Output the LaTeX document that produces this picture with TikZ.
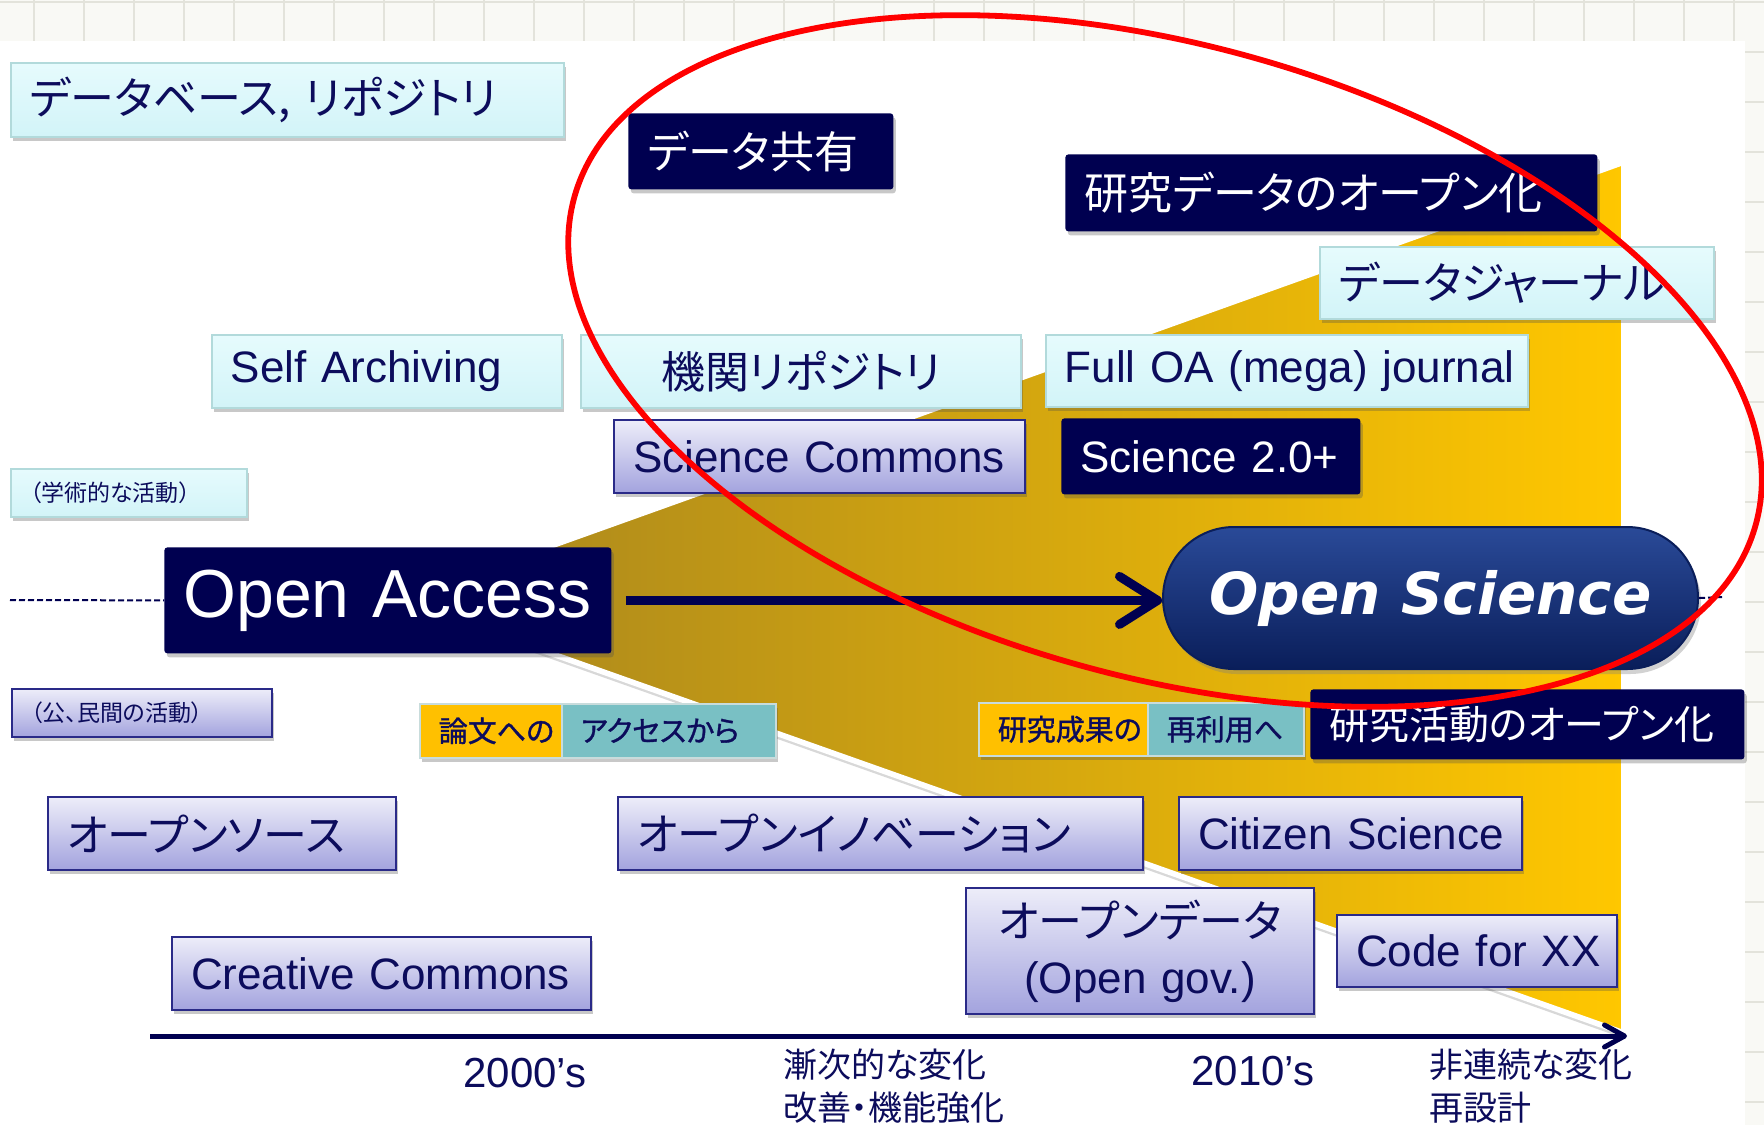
\documentclass[tikz,border=0pt]{standalone}
\usepackage{fontspec}
\setmainfont{Liberation Sans}
\newfontfamily\jp[RawFeature=+palt]{Noto Sans CJK JP}
\newfontfamily\jpb[RawFeature=+palt, FakeBold=1.2]{Noto Sans CJK JP}
\newfontfamily\dvs{DejaVu Sans}
\usetikzlibrary{shadows,arrows.meta}
\definecolor{navy}{HTML}{000050}
\definecolor{ink}{HTML}{0C0C5C}
\definecolor{cyantop}{HTML}{E6FBFD}
\definecolor{cyanbot}{HTML}{D2F4F8}
\definecolor{cyanedge}{HTML}{B2DADB}
\definecolor{lavtop}{HTML}{EDEDF9}
\definecolor{lavbot}{HTML}{A3A3DE}
\definecolor{lavedge}{HTML}{2A2A88}
\definecolor{goldA}{HTML}{A6841F}
\definecolor{goldB}{HTML}{D6A20F}
\definecolor{goldC}{HTML}{FFC700}
\definecolor{labY}{HTML}{FFC000}
\definecolor{labT}{HTML}{79C0C4}
\definecolor{labedge}{HTML}{C8DCDC}
\definecolor{gridbg}{HTML}{F9F9F5}
\definecolor{gridln}{HTML}{E3E3DB}
\definecolor{pillA}{HTML}{2A4A98}
\definecolor{pillB}{HTML}{0F2A6C}
\definecolor{pillC}{HTML}{0A1E5A}
\definecolor{redline}{HTML}{FF0000}
\tikzset{
  base/.style={anchor=north west, inner xsep=9.5pt, inner ysep=0pt, align=left},
  sz/.style n args={3}{minimum width=#1pt, minimum height=#2pt, text width=#3pt},
  shad/.style={drop shadow={shadow xshift=1.2pt, shadow yshift=-2pt, opacity=0.3, fill=black!70}},
  cyanbox/.style={base, shad, top color=cyantop, bottom color=cyanbot, draw=cyanedge, line width=0.8pt, text=ink},
  lavbox/.style={base, shad, top color=lavtop, bottom color=lavbot, draw=lavedge, line width=1pt, text=ink},
  navybox/.style={base, shad, fill=navy, rounded corners=1.5pt, text=white},
  labyel/.style={base, shad, fill=labY, draw=labedge, line width=0.8pt, text=ink, font=\jpb\fontsize{14.5}{17}\selectfont},
  labteal/.style={base, shad, fill=labT, draw=labedge, line width=0.8pt, text=ink, font=\jpb\fontsize{14.5}{17}\selectfont},
  big/.style={font=\fontsize{22}{26}\selectfont},
  bigjp/.style={font=\jp\fontsize{22}{26}\selectfont},
  smalljp/.style={font=\jp\fontsize{11.5}{14}\selectfont},
  pill/.style={anchor=north west, inner sep=0pt, minimum width=267.5pt, minimum height=71pt,
    rounded corners=35.5pt, top color=pillA, middle color=pillB, bottom color=pillC,
    draw=pillC, line width=1pt, text=white, drop shadow={shadow xshift=1.5pt, shadow yshift=-2.5pt, opacity=0.35},
    font=\dvs\bfseries\itshape\fontsize{29}{34}\selectfont},
  dashline/.style={navy, line width=1pt, dash pattern=on 3pt off 1.5pt},
  flowarrow/.style={navy, line width=4.5pt, -{Straight Barb[length=19pt, width=24pt, round]}},
  axisline/.style={navy, line width=2.5pt, -{Straight Barb[length=10pt, width=11pt, round]}},
  axlabel/.style={text=ink, inner sep=0pt, font=\fontsize{21}{25}\selectfont},
  axnote/.style={text=ink, inner sep=0pt, anchor=north west, align=left, font=\jp\fontsize{17}{21.5}\selectfont},
  ring/.style={draw=redline, line width=2.9pt}
}
\begin{document}
\begin{tikzpicture}[x=0.5pt,y=-0.5pt]
\useasboundingbox (0,0) rectangle (1764,1125);
% background grid and slide
\fill[gridbg] (0,0) rectangle (1764,1125);
\foreach \gx in {34,84,...,1764} \draw[gridln, line width=0.6pt] (\gx,0) -- (\gx,1125);
\foreach \gy in {2,52,...,1125} \draw[gridln, line width=0.6pt] (0,\gy) -- (1764,\gy);
\fill[white] (0,41) rectangle (1745,1125);
% gold wedge
\path[drop shadow={shadow xshift=0.8pt, shadow yshift=-3pt, opacity=0.3},
  left color=goldA, middle color=goldB, right color=goldC, draw=white, line width=2.8pt]
  (400,600) -- (1624,162) -- (1624,1033) -- cycle;
% top row
\node[cyanbox, bigjp, sz={276.5}{37}{257.5}] (db) at (10,62) {データベース, リポジトリ};
\node[navybox, bigjp, sz={132.5}{38}{113.5}] (share) at (628,113) {データ共有};
\node[navybox, bigjp, sz={266}{38.5}{247}] (rdopen) at (1065,154) {研究データのオープン化};
\node[cyanbox, bigjp, sz={197}{36}{178}] (djournal) at (1319,246) {データジャーナル};
\node[cyanbox, big, sz={175}{36.5}{156}] (selfarch) at (211,334) {\mbox{Self Archiving}};
\node[cyanbox, bigjp, sz={220}{36.5}{201}, align=center] (kikan) at (580,334) {機関リポジトリ};
\node[cyanbox, big, sz={241}{36}{222}] (fulloa) at (1045,334) {\mbox{Full OA (mega) journal}};
\node[lavbox, big, sz={205.5}{36.5}{186.5}] (scicom) at (613,419) {\mbox{Science Commons}};
\node[navybox, big, sz={149.5}{38}{130.5}] (sci20) at (1061,418) {\mbox{Science 2.0+}};
\node[cyanbox, smalljp, sz={118}{24}{99}] (gaku) at (10,468) {（学術的な活動）};
% main line
\node[navybox, font=\fontsize{34}{40}\selectfont, sz={223.5}{53}{204.5}] (oa) at (164,547) {\mbox{Open Access}};
\node[pill] (os) at (1162,526) {Open Science};
\coordinate (dashL) at (10,600);
\coordinate (dashR) at (1722,597);
\draw[dashline] (dashL) -- (oa.west);
\draw[dashline] (os.east) -- (dashR);
\draw[flowarrow, shorten <=7pt] (oa.east) -- (oa.east -| os.west);
% lower part
\node[lavbox, smalljp, sz={130}{24}{111}] (koumin) at (11,688) {（公、民間の活動）};
\node[labyel, sz={71}{27}{52}] (ronY) at (419,703) {論文への};
\node[labteal, sz={107}{27}{88}] (ronT) at (561,703) {アクセスから};
\node[labyel, sz={84.5}{26.5}{65.5}] (seiY) at (978,702) {研究成果の};
\node[labteal, sz={78}{26.5}{59}] (seiT) at (1147,702) {再利用へ};
\node[navybox, font=\jp\fontsize{20}{24}\selectfont, sz={217}{35}{198}] (katsudo) at (1310,689) {研究活動のオープン化};
\node[lavbox, bigjp, sz={174}{36.5}{155}] (oss) at (47,796) {オープンソース};
\node[lavbox, bigjp, sz={262.5}{36.5}{243.5}] (oinno) at (617,796) {オープンイノベーション};
\node[lavbox, big, sz={171.5}{36.5}{152.5}] (citizen) at (1178,796) {\mbox{Citizen Science}};
\node[lavbox, big, sz={209.5}{36.5}{190.5}] (cc) at (171,936) {\mbox{Creative Commons}};
\node[lavbox, font=\fontsize{22}{28}\selectfont, sz={174}{63}{155}, align=center] (odata) at (965,887) {{\jp オープンデータ}\\(Open gov.)};
\node[lavbox, big, sz={140}{36}{121}] (codexx) at (1336,914) {\mbox{Code for XX}};
% time axis
\coordinate (axL) at (150,1036);
\coordinate (axR) at (1627,1036);
\draw[axisline] (axL) -- (axR);
\node[axlabel] (y2000) at (525,1073) {2000’s};
\node[axlabel] (y2010) at (1253,1071) {2010’s};
\node[axnote] (grad) at (783,1048) {漸次的な変化\\改善・機能強化};
\node[axnote] (disc) at (1429,1048) {非連続な変化\\再設計};
% red ring
\draw[ring, rotate around={-15.5:(1165,361)}] (1165,361) ellipse [x radius=613, y radius=316];
\end{tikzpicture}
\end{document}
